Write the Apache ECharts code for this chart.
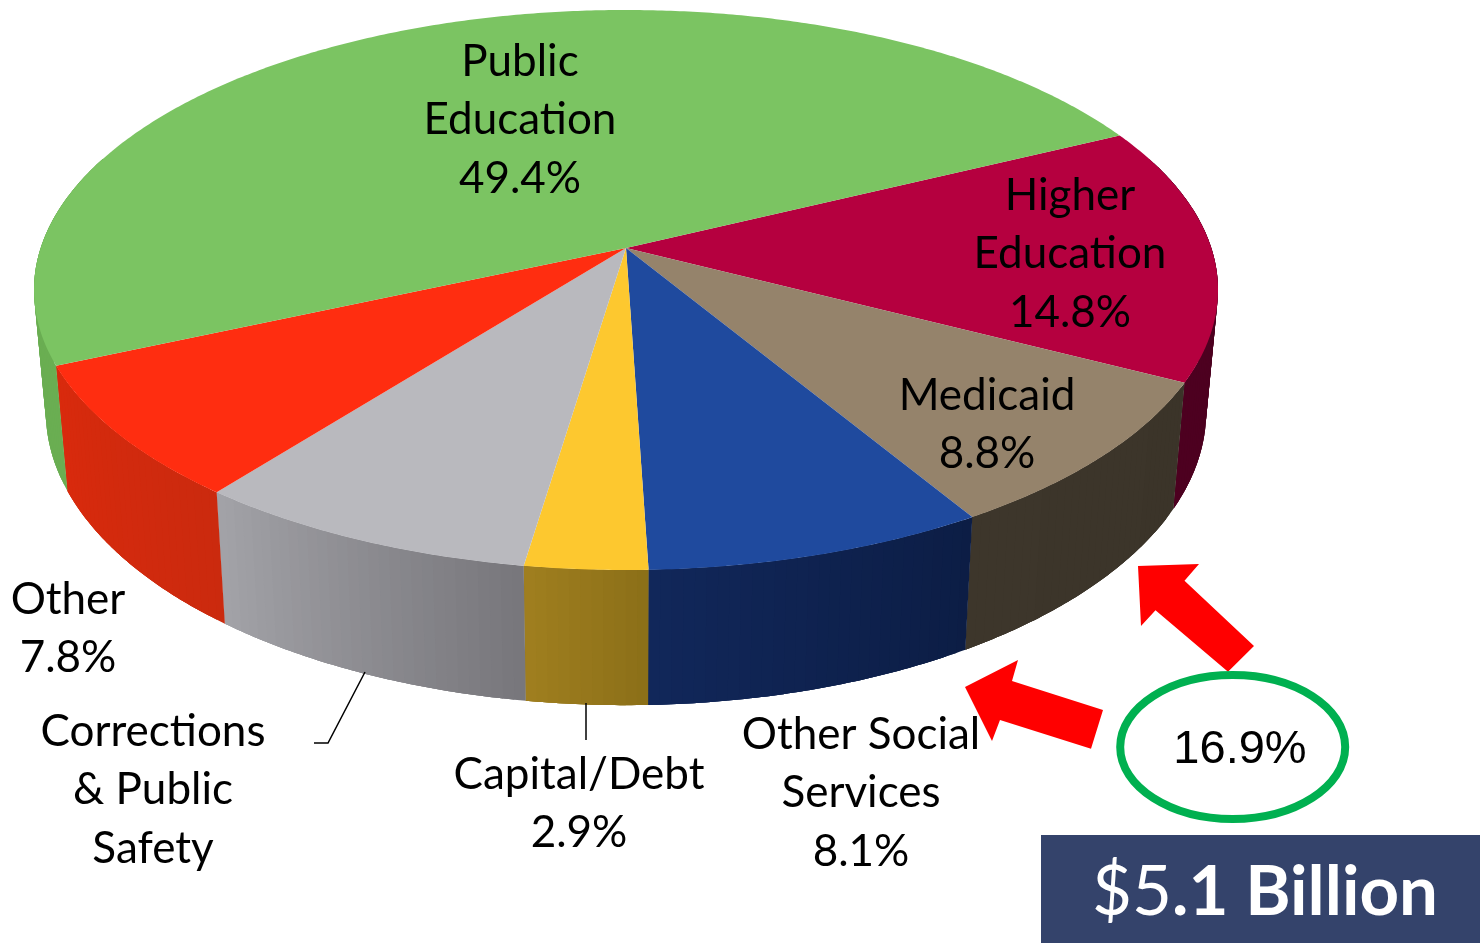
<!DOCTYPE html>
<html><head><meta charset="utf-8">
<style>html,body{margin:0;padding:0;background:#fff}#c{width:1480px;height:943px}</style>
<script src="https://cdn.jsdelivr.net/npm/echarts@6/dist/echarts.min.js"></script>
</head><body><div id="c"></div>
<script>
// ---------- data ----------
var categories = ['Higher\nEducation','Medicaid','Other Social\nServices','Capital/Debt','Corrections\n& Public\nSafety','Other','Public\nEducation'];
var values     = [14.8, 8.8, 8.1, 2.9, 8.2, 7.8, 49.4];
var showPct    = [true, true, true, true, false, true, true];
var topColors  = ['#b5003f','#95836b','#1f4a9e','#fdc82f','#b9b9be','#ff2d10','#7bc462'];
var wallLeft   = [[77,0,32],[61,54,43],[17,39,90],[160,127,31],[163,163,168],[217,42,13],[106,174,82]];
var wallRight  = [[77,0,32],[59,52,41],[12,29,69],[139,111,24],[119,118,123],[203,42,14],[106,174,82]];
var calloutText = '16.9%';
var totalStart = '$5', totalRest = '.1 Billion';

// ---------- layout ----------
var FONT = 'Lato, Carlito, sans-serif';
var labelAt = [[1070,254],[987,425],[861,793],[579,804],[153,790],[68,629],[520,120]];
var startDeg = -26;
var P = {cx:626, apexY:248, k:-0.15, rx:585.3, ry:273.7,
         wallScale:0.98, wallY:367.5, wallRy:287, visFrom:-20, visTo:200};

function rad(d){return d*Math.PI/180;}
function topPt(d){var u=Math.cos(rad(d)),v=Math.sin(rad(d)),w=1/(1+P.k*v);
  return [P.cx+P.rx*u*w, P.apexY+P.ry*v*w];}
function botPt(d){var u=Math.cos(rad(d)),v=Math.sin(rad(d)),w=1/(1+P.k*v);
  return [P.cx+P.wallScale*P.rx*u*w, P.wallY+P.wallRy*v*w];}
function arc(fn,a,b){var n=Math.max(2,Math.ceil(Math.abs(b-a)*2)),r=[];
  for(var i=0;i<=n;i++)r.push(fn(a+(b-a)*i/n));return r;}
var total=values.reduce(function(s,v){return s+v;},0);
function range(i){var s=0;for(var j=0;j<i;j++)s+=values[j];
  return [startDeg+s/total*360,startDeg+(s+values[i])/total*360];}

var seriesData=values.map(function(v,i){return {name:categories[i],value:[v]};});

function mix(a,b,t){return 'rgb('+a.map(function(c,k){return Math.round(c+(b[k]-c)*t);}).join(',')+')';}
function renderWall(p,api){
  var i=p.dataIndex,r=range(i),a=Math.max(r[0],P.visFrom),b=Math.min(r[1],P.visTo);
  if(b<=a)return null;
  var n=Math.ceil(b-a),kids=[];
  for(var q=0;q<n;q++){
    // each strip runs on under the next one, so no seams show between them
    var d0=a+(b-a)*q/n,d1=a+(b-a)*Math.min(q+3,n)/n,c=mix(wallLeft[i],wallRight[i],1-(q+0.5)/n);
    var pts=arc(topPt,d0,d1).concat(arc(botPt,d0,d1).reverse());
    kids.push({type:'polygon',shape:{points:pts},style:{fill:c}});
  }
  return {type:'group',children:kids};
}
function renderTop(p,api){
  var i=p.dataIndex,r=range(i);
  var pts=[[P.cx,P.apexY]].concat(arc(topPt,r[0],r[1]));
  return {type:'polygon',shape:{points:pts},style:{fill:topColors[i]}};
}
function renderLabel(p,api){
  var i=p.dataIndex;
  var t=categories[i]+(showPct[i]?'\n'+api.value(0).toFixed(1)+'%':'');
  return {type:'text',x:labelAt[i][0],y:labelAt[i][1],style:{text:t,textAlign:'center',textVerticalAlign:'middle',
    fontFamily:FONT,fontSize:44,lineHeight:58.5,fill:'#000'}};
}
function custom(fn,z){return {type:'custom',coordinateSystem:'none',renderItem:fn,data:seriesData,z:z,silent:true,animation:false};}

var chart=echarts.init(document.getElementById('c'),null,{renderer:'canvas'});
chart.setOption({
  backgroundColor:'#fff',animation:false,
  series:[custom(renderWall,1),custom(renderTop,2),custom(renderLabel,5)],
  graphic:[
    {type:'polyline',z:6,shape:{points:[[365,672],[328,743],[314,743]]},style:{stroke:'#000',lineWidth:1.5,fill:null}},
    {type:'line',z:6,shape:{x1:586,y1:703,x2:586,y2:740},style:{stroke:'#000',lineWidth:1.5}},
    {type:'polygon',z:7,shape:{points:[[1138,566],[1199,564],[1184.5,580.7],[1254,646],[1228,671.7],[1155.5,610.3],[1141,626]]},style:{fill:'#ff0000'}},
    {type:'polygon',z:7,shape:{points:[[965,687],[1018,660],[1012,681],[1103,710],[1091,748.7],[1000,720],[992,741]]},style:{fill:'#ff0000'}},
    {type:'ellipse',z:8,shape:{cx:1232.7,cy:747,rx:112.5,ry:72},style:{fill:'#fff',stroke:'#00b050',lineWidth:8}},
    {type:'text',z:9,x:1240,y:750,style:{text:calloutText,textAlign:'center',textVerticalAlign:'middle',fontFamily:'"Liberation Sans",Arial,sans-serif',fontSize:47,fill:'#000'}},
    {type:'rect',z:8,shape:{x:1041,y:835,width:439,height:108},style:{fill:'#34436b'}},
    {type:'text',z:9,x:1265,y:893,style:{text:'{a|'+totalStart+'}{b|'+totalRest+'}',textAlign:'center',textVerticalAlign:'middle',
      rich:{a:{fontFamily:FONT,fontSize:69,fill:'#fff',color:'#fff'},b:{fontFamily:FONT,fontSize:69,fontWeight:'bold',fill:'#fff',color:'#fff'}}}}
  ]
});
</script></body></html>
